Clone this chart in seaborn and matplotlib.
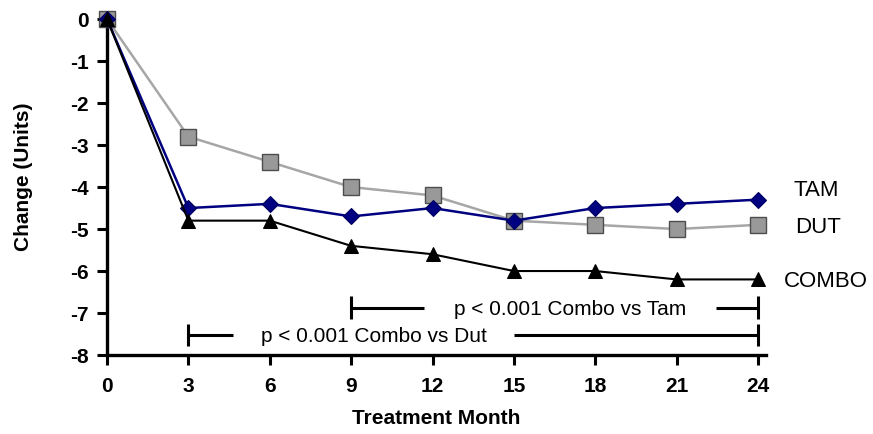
import numpy as np
import pandas as pd
import seaborn as sns
import matplotlib.pyplot as plt

# treatment months and change from baseline
months = [0, 3, 6, 9, 12, 15, 18, 21, 24]
tam = [0, -4.5, -4.4, -4.7, -4.5, -4.8, -4.5, -4.4, -4.3]
dut = [0, -2.8, -3.4, -4.0, -4.2, -4.8, -4.9, -5.0, -4.9]
combo = [0, -4.8, -4.8, -5.4, -5.6, -6.0, -6.0, -6.2, -6.2]

series_names = ['TAM', 'DUT', 'COMBO']
x_ticks = [0, 3, 6, 9, 12, 15, 18, 21, 24]
y_ticks = [0, -1, -2, -3, -4, -5, -6, -7, -8]

# significance brackets: start, end, level, gap in the line for the text, text
brackets = [
    (9, 24, -6.87, (11.7, 22.45), 'p < 0.001 Combo vs Tam'),
    (3, 24, -7.52, (4.65, 15.0), 'p < 0.001 Combo vs Dut'),
]

df = pd.DataFrame({
    'month': months * 3,
    'change': tam + dut + combo,
    'group': np.repeat(series_names, len(months)),
})

sns.set_style('white')
plt.rcParams['font.family'] = ['Liberation Sans', 'DejaVu Sans']
plt.rcParams['text.color'] = 'black'
plt.rcParams['axes.labelcolor'] = 'black'
plt.rcParams['xtick.color'] = 'black'
plt.rcParams['ytick.color'] = 'black'

fig = plt.figure(figsize=(8.73, 4.34), dpi=100)
ax = fig.add_axes([0.1226, 0.182, 0.755, 0.774])

styles = {
    'TAM': dict(color='#000080', marker='D', markersize=8, linewidth=1.8,
                markeredgecolor='#000060', markeredgewidth=0.8),
    'DUT': dict(color='#a6a6a6', marker='s', markersize=11, linewidth=1.8,
                markerfacecolor='#999999', markeredgecolor='#4d4d4d', markeredgewidth=1.0),
    'COMBO': dict(color='black', marker='^', markersize=10, linewidth=1.5,
                  markeredgecolor='black'),
}

# draw DUT first so TAM/COMBO sit on top at month 0
for name in ['DUT', 'TAM', 'COMBO']:
    sub = df[df['group'] == name]
    sns.lineplot(data=sub, x='month', y='change', ax=ax, clip_on=False,
                 zorder=3, **styles[name])

# series labels at the right end
last = {'TAM': tam[-1], 'DUT': dut[-1], 'COMBO': combo[-1]}
label_x = {'TAM': 25.3, 'DUT': 25.35, 'COMBO': 24.95}
label_dy = {'TAM': 0.21, 'DUT': -0.06, 'COMBO': -0.04}
for name in series_names:
    ax.text(label_x[name], last[name] + label_dy[name], name, fontsize=16,
            va='center', ha='left', clip_on=False)

# brackets with the text sitting in a gap of the line
for x0, x1, yb, (g0, g1), txt in brackets:
    ax.plot([x0, g0], [yb, yb], color='black', lw=2.2, solid_capstyle='butt')
    ax.plot([g1, x1], [yb, yb], color='black', lw=2.2, solid_capstyle='butt')
    for xc in (x0, x1):
        ax.plot([xc, xc], [yb - 0.27, yb + 0.27], color='black', lw=2.2,
                solid_capstyle='butt')
    ax.text((g0 + g1) / 2, yb - 0.05, txt, fontsize=15, va='center', ha='center')

ax.set_xlim(0, 24.3)
ax.set_ylim(-8, 0)
ax.set_xticks(x_ticks)
ax.set_yticks(y_ticks)
ax.set_xticklabels([str(v) for v in x_ticks], fontsize=15, fontweight='bold')
ax.set_yticklabels([str(v) for v in y_ticks], fontsize=15, fontweight='bold')
ax.tick_params(axis='x', direction='out', length=7, width=2.2, pad=9)
ax.tick_params(axis='y', direction='out', length=7, width=2.2, pad=6)
ax.tick_params(left=True, bottom=True)

for side in ['top', 'right']:
    ax.spines[side].set_visible(False)
for side in ['left', 'bottom']:
    ax.spines[side].set_linewidth(2.4)
    ax.spines[side].set_color('black')

ax.set_xlabel('Treatment Month', fontsize=15, fontweight='bold', labelpad=9)
ax.set_ylabel('Change (Units)', fontsize=15, fontweight='bold')
ax.yaxis.set_label_coords(-0.112, 0.53)

fig.savefig('out.png', dpi=100)
